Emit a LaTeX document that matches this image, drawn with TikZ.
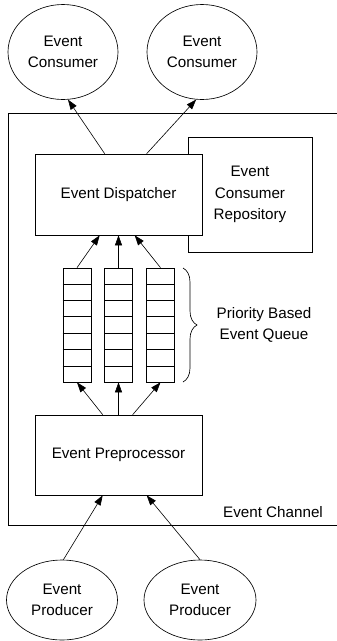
\documentclass[tikz,border=0pt]{standalone}
\usepackage{fontspec}
\setmainfont{Liberation Sans}
\usetikzlibrary{shapes.geometric,arrows.meta,calc,decorations.pathreplacing}

\begin{document}
\begin{tikzpicture}[x=1pt,y=-1pt,
  font=\fontsize{15.2}{21.5}\selectfont,
  line width=0.65pt,
  every node/.append style={align=center},
  actor/.style={draw,ellipse,inner sep=0pt},
  block/.style={draw,fill=white,rectangle,inner sep=0pt},
  queuecol/.style={draw,rectangle,inner sep=0pt,minimum width=28pt,minimum height=114pt},
  flow/.style={-{Triangle[length=10pt,width=7pt]},line width=0.6pt}]
\useasboundingbox (0,0) rectangle (337,641);

% event channel frame, open at the right
\draw (337,113) -- (8,113) -- (8,525) -- (337,525);
\node (chan) at (273,512) {Event Channel};

% consumers and producers
\node[actor,minimum width=110pt,minimum height=95pt] (cons1) at (63,52) {Event\\Consumer};
\node[actor,minimum width=110pt,minimum height=95pt] (cons2) at (202,52) {Event\\Consumer};
\node[actor,minimum width=111pt,minimum height=80pt] (prod1) at (62,600) {Event\\Producer};
\node[actor,minimum width=112pt,minimum height=80pt] (prod2) at (200,600) {Event\\Producer};

% repository sits behind the dispatcher
\node[block,minimum width=124pt,minimum height=115pt] (repo) at (250,194.5) {Event\\Consumer\\Repository};
\node[block,minimum width=167pt,minimum height=81pt] (disp) at (118.5,194.5) {Event Dispatcher};
\node[block,minimum width=167pt,minimum height=80pt] (pre) at (118.5,455) {Event Preprocessor};

% priority queues
\node[queuecol] (q1) at (77,325) {};
\node[queuecol] (q2) at (118.5,325) {};
\node[queuecol] (q3) at (160.5,325) {};
\foreach \q in {q1,q2,q3}
  \foreach \i in {1,...,6}
    \draw ($(\q.north west)!\i/7!(\q.south west)$) -- ($(\q.north east)!\i/7!(\q.south east)$);

\draw[decorate,decoration={brace,amplitude=14pt}] (183,268) -- (183,382);
\node (prio) at (264,325) {Priority Based\\Event Queue};

% attachment points on the block edges
\coordinate (dt1) at ($(disp.north west)+(70,0)$);
\coordinate (dt2) at ($(disp.north west)+(112,0)$);
\coordinate (db1) at ($(disp.south west)+(65,0)$);
\coordinate (db3) at ($(disp.south west)+(100,0)$);
\coordinate (pt1) at ($(pre.north west)+(68,0)$);
\coordinate (pt3) at ($(pre.north west)+(98,0)$);
\coordinate (pb1) at ($(pre.south west)+(68,0)$);
\coordinate (pb2) at ($(pre.south west)+(112,0)$);

% connectors
\draw[flow] (dt1) -- (cons1.-84);
\draw[flow] (dt2) -- (cons2.-97);
\draw[flow] (q1.north) -- (db1);
\draw[flow] (q2.north) -- (disp.south);
\draw[flow] (q3.north) -- (db3);
\draw[flow] (pt1) -- (q1.south);
\draw[flow] (pre.north) -- (q2.south);
\draw[flow] (pt3) -- (q3.south);
\draw[flow] (prod1.88) -- (pb1);
\draw[flow] (prod2.90) -- (pb2);
\end{tikzpicture}
\end{document}
